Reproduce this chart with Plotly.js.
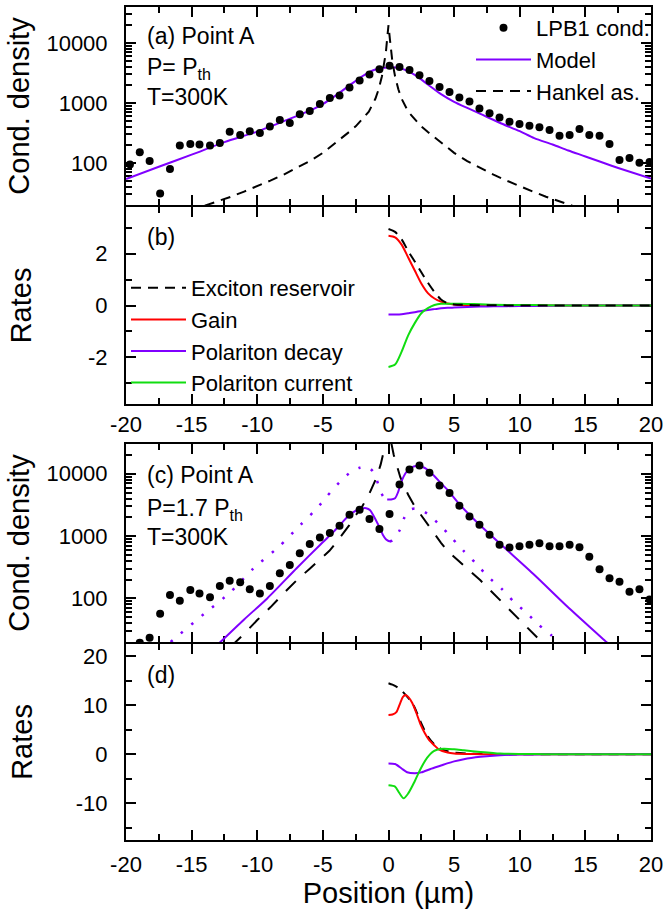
<!DOCTYPE html>
<html><head><meta charset="utf-8">
<script src="https://cdn.plot.ly/plotly-3.0.1.min.js"></script>
<style>html,body{margin:0;padding:0;background:#fff}#chart{width:668px;height:917px}</style>
</head><body><div id="chart"></div>
<script>
// ---------- DATA ----------
const posPts = [-19.7,-18.95,-18.2,-17.4,-16.65,-15.9,-15.1,-14.4,-13.6,-12.85,-12.1,-11.3,-10.57,-9.8,-9.04,-8.28,-7.52,-6.76,-6.0,-5.23,-4.47,-3.73,-2.97,-2.2,-1.45,-0.69,0.08,0.84,1.6,2.36,3.12,3.89,4.65,5.4,6.17,6.93,7.7,8.46,9.22,9.98,10.74,11.5,12.27,13.03,13.8,14.55,15.3,16.08,16.84,17.6,18.36,19.12,19.89];
const condA = [95,152,108,31,80,196,208,205,196,216,332,294,338,316,408,525,464,653,740,965,1220,1340,1820,2380,3000,3660,4200,4000,3550,2900,2330,1850,1530,1240,1060,815,678,575,488,447,418,394,355,286,294,369,294,286,208,113,122,101,104];
const condC = [null,19.5,23.5,57,113,91.5,136,120,104,158,192,181,140,120,158,253,344,532,745,948,1120,1470,2200,2650,1880,1300,2270,6700,11700,13600,10400,6450,4900,3080,2070,1515,1050,725,655,690,725,771,690,690,725,661,468,294,210,185,128,140,96];

const modelAx = [-20,-17.5,-15,-12.5,-10,-7.5,-6,-5,-4,-3,-2,-1,-0.3,0.3,1,2,3,4,5,6,7,8.6,10,11.1,12.5,13.7,15,16.2,17.5,20];
const modelAy = [54,87,138,224,335,550,750,965,1350,1950,2800,3630,3900,3940,3760,2950,2040,1410,1050,830,660,457,340,260,204,162,129,104,83,55];

const hankelAx = [-14,-13,-12,-11,-10,-9,-8,-7,-6,-5,-4.5,-4,-3.5,-3,-2.5,-2,-1.5,-1,-0.75,-0.5,-0.3,-0.2,-0.1,0,0.1,0.2,0.3,0.5,0.75,1,1.5,2,2.5,3,3.5,4,4.5,5,6,7,8,9,10,11,12,13,14];
const hankelAy = [19.5,23,27.5,33.5,41,51,64,82,108,148,180,220,270,330,410,540,720,1180,1700,2800,4800,7000,12000,20000,12000,7000,4800,2800,1700,1180,720,540,410,330,270,220,180,148,108,82,64,51,41,33.5,27.5,23,19.5];

const modelCLx = [-13,-11,-9.24,-7,-5.18,-4.17,-3.66,-3,-2.5,-2,-1.7,-1.4,-1.12,-0.8,-0.6,-0.4,-0.2,0,0.2];
const modelCLy = [18.3,46,100,305,735,1180,1540,2150,2550,2780,2800,2600,2080,1550,1270,1020,890,835,815];
const modelCRx = [-0.1,0.2,0.5,0.75,0.91,1.15,1.42,1.8,2.19,2.6,2.95,3.45,3.96,4.5,5.49,6.76,8.59,11.12,13.66,16.6,17];
const modelCRy = [3850,3870,4050,5200,6740,9000,11000,12800,13300,12800,11700,9400,7160,5500,3100,1650,725,238,73,20,16.5];
const mirrorCLx = [-16.6,-16.1,-14.07,-12.06,-10.28,-8.37,-6.7,-5.43,-4.67,-3.73,-2.8,-2.2,-1.88,-1.5,-1.2,-0.99,-0.66,-0.4,-0.15,0.1];
const mirrorCLy = [20,24.6,56,125,304,670,1515,2820,4400,7300,11000,12500,12900,12500,11000,9150,5600,4300,3900,3850];
const mirrorCRx = [0.1,0.3,0.55,0.86,1.17,1.5,1.75,2.0,2.4,2.95,3.96,4.85,5.74,6.65,7.57,8.59,9.47,10.5,11.4,12.4,13.2];
const mirrorCRy = [830,850,980,1250,1900,2450,2700,2760,2650,2290,1470,920,575,366,225,145,92,59,38.5,25.7,18];

const hankelCx = [-12,-11,-10,-9,-8,-7,-6,-5,-4.5,-4,-3.5,-3,-2.5,-2,-1.5,-1.2,-0.9,-0.6,-0.4,-0.2,0,0.2,0.4,0.6,0.9,1.2,1.5,2,2.5,3,3.5,4,4.5,5,6,7,8,9,10,11,12];
const hankelCy = [17,27,45,72,120,195,300,460,580,780,1080,1480,2150,3000,4600,6300,8800,14000,20000,32000,80000,32000,20000,14000,8800,6300,4600,3000,2150,1480,1080,780,580,460,300,195,120,72,45,27,17];

// panel (b) rates
const ratesBx = [0,0.5,1,1.5,2,2.5,3,3.5,4,4.5,5,6,7,8,10,12,15,20];
const excitonB = [2.95,2.84,2.55,2.1,1.7,1.28,0.88,0.52,0.23,0.09,0.04,0.02,0.01,0.01,0,0,0,0];
const gainB    = [2.69,2.63,2.35,1.85,1.35,0.85,0.48,0.27,0.15,0.08,0.04,0.01,0,0,0,0,0,0];
const decayB   = [-0.35,-0.35,-0.34,-0.3,-0.26,-0.21,-0.17,-0.14,-0.11,-0.09,-0.08,-0.06,-0.04,-0.03,-0.02,-0.01,0,0];
const currentB = [-2.37,-2.28,-1.78,-1.15,-0.68,-0.3,-0.1,0.02,0.07,0.07,0.07,0.06,0.05,0.03,0.02,0.01,0,0];

// panel (d) rates
const excitonDx = [0,0.3,0.66,1.0,1.5,1.8,2.0,2.5,3.0,3.5,4.0,4.5,5.0,6,7,8,10,15,20];
const excitonDy = [14.5,14.2,13.7,13.0,11.5,10.5,9.5,6.3,3.6,2.0,1.1,0.6,0.35,0.15,0.05,0,0,0,0];
const gainDx = [0,0.3,0.6,0.9,1.1,1.3,1.5,1.8,2.1,2.44,2.75,3.07,3.5,3.83,4.5,5,6,7,8,10,15,20];
const gainDy = [8.0,8.1,8.6,10.5,11.7,12.1,11.7,10.5,8.6,6.1,4.4,3.0,1.8,1.0,0.35,0.15,0.05,0.02,0,0,0,0];
const decayDx = [0,0.5,1.0,1.42,2.0,2.5,3.2,4.0,4.47,5.0,5.74,7.0,8.5,10,12,15,20];
const decayDy = [-1.87,-2.0,-2.9,-3.67,-3.87,-3.7,-3.0,-2.3,-1.87,-1.45,-1.0,-0.53,-0.2,-0.07,-0.02,0,0];
const currentDx = [0,0.5,0.8,1.15,1.5,2.0,2.44,2.95,3.45,4.2,5.0,5.74,7.0,8.5,10,12,15,20];
const currentDy = [-6.33,-6.6,-7.8,-9.0,-8.0,-5.5,-3.0,-0.67,0.66,1.13,1.0,0.8,0.46,0.13,0.05,0.02,0,0];

const xTickVals = [-20,-15,-10,-5,0,5,10,15,20];
const xTickText = ['-20','-15','-10','-5','0','5','10','15','20'];
const logTickVals = [100,1000,10000];
const logTickText = ['100','1000','10000'];
const logMinorVals = [30,40,50,60,70,80,90,200,300,400,500,600,700,800,900,2000,3000,4000,5000,6000,7000,8000,9000,20000,30000];
const ratesBTickVals = [-2,0,2];
const ratesBTickText = ['-2','0','2'];
const ratesDTickVals = [-10,0,10,20];
const ratesDTickText = ['-10','0','10','20'];

// ---------- STYLE / LAYOUT ----------
const FONT = 'Liberation Sans, Arial, sans-serif';
const PURPLE = '#8000ff', RED = '#ff0000', GREEN = '#11dd11';
const W = 668, H = 917, ML = 126, MR = 17, MT = 7, MB = 77;
const plotH = H - MT - MB, plotW = W - ML - MR;
const py = p => (H - MB - p) / plotH;
const px = p => (p - ML) / plotW;
const DASH = '10px,7px';

const traces = [
  {x: modelAx, y: modelAy, xaxis:'x', yaxis:'y', mode:'lines', name:'Model', legend:'legend', legendrank:2,
   line:{color:PURPLE, width:2, shape:'spline', smoothing:0.8}},
  {x: hankelAx, y: hankelAy, xaxis:'x', yaxis:'y', mode:'lines', name:'Hankel as.', legend:'legend', legendrank:3,
   line:{color:'black', width:2, dash:DASH}},
  {x: posPts, y: condA, xaxis:'x', yaxis:'y', mode:'markers', name:'LPB1 cond.', legend:'legend', legendrank:1,
   marker:{color:'black', size:8}},
  {x: ratesBx, y: gainB, xaxis:'x2', yaxis:'y2', mode:'lines', name:'Gain', legend:'legend2', legendrank:2,
   line:{color:RED, width:2, shape:'spline', smoothing:0.7}},
  {x: ratesBx, y: decayB, xaxis:'x2', yaxis:'y2', mode:'lines', name:'Polariton decay', legend:'legend2', legendrank:3,
   line:{color:PURPLE, width:2, shape:'spline', smoothing:0.7}},
  {x: ratesBx, y: currentB, xaxis:'x2', yaxis:'y2', mode:'lines', name:'Polariton current', legend:'legend2', legendrank:4,
   line:{color:GREEN, width:2, shape:'spline', smoothing:0.7}},
  {x: ratesBx, y: excitonB, xaxis:'x2', yaxis:'y2', mode:'lines', name:'Exciton reservoir', legend:'legend2', legendrank:1,
   line:{color:'black', width:2, dash:DASH, shape:'spline', smoothing:0.7}},
  {x: mirrorCLx, y: mirrorCLy, xaxis:'x3', yaxis:'y3', mode:'lines', showlegend:false,
   line:{color:PURPLE, width:2.5, dash:'2.5px,11px', shape:'spline', smoothing:0.7}},
  {x: mirrorCRx, y: mirrorCRy, xaxis:'x3', yaxis:'y3', mode:'lines', showlegend:false,
   line:{color:PURPLE, width:2.5, dash:'2.5px,11px', shape:'spline', smoothing:0.7}},
  {x: hankelCx, y: hankelCy, xaxis:'x3', yaxis:'y3', mode:'lines', showlegend:false,
   line:{color:'black', width:2, dash:'14px,12px'}},
  {x: modelCLx, y: modelCLy, xaxis:'x3', yaxis:'y3', mode:'lines', showlegend:false,
   line:{color:PURPLE, width:2, shape:'spline', smoothing:0.7}},
  {x: modelCRx, y: modelCRy, xaxis:'x3', yaxis:'y3', mode:'lines', showlegend:false,
   line:{color:PURPLE, width:2, shape:'spline', smoothing:0.7}},
  {x: posPts, y: condC, xaxis:'x3', yaxis:'y3', mode:'markers', showlegend:false,
   marker:{color:'black', size:8}},
  {x: excitonDx, y: excitonDy, xaxis:'x4', yaxis:'y4', mode:'lines', showlegend:false,
   line:{color:'black', width:2, dash:DASH, shape:'spline', smoothing:0.7}},
  {x: gainDx, y: gainDy, xaxis:'x4', yaxis:'y4', mode:'lines', showlegend:false,
   line:{color:RED, width:2, shape:'spline', smoothing:0.7}},
  {x: decayDx, y: decayDy, xaxis:'x4', yaxis:'y4', mode:'lines', showlegend:false,
   line:{color:PURPLE, width:2, shape:'spline', smoothing:0.7}},
  {x: currentDx, y: currentDy, xaxis:'x4', yaxis:'y4', mode:'lines', showlegend:false,
   line:{color:GREEN, width:2, shape:'spline', smoothing:0.7}}
];

const tickFont = {family: FONT, size: 22, color: 'black'};
const titleFont = {family: FONT, size: 29, color: 'black'};
function xAxis(anchor, labels, extra) {
  return Object.assign({
    anchor: anchor, range: [-20, 20], showline: true, linecolor: 'black', linewidth: 2,
    mirror: 'ticks', ticks: 'inside', ticklen: 10, tickwidth: 2, tickcolor: 'black', layer: 'below traces',
    tickmode: 'array', tickvals: xTickVals, ticktext: xTickText, showticklabels: labels,
    minor: {ticks: 'inside', ticklen: 6, tickwidth: 2, tickcolor: 'black', tickmode: 'linear', tick0: 0, dtick: 2.5, showgrid: false},
    showgrid: false, zeroline: false, tickfont: tickFont
  }, extra || {});
}
function yAxis(anchor, domain, extra) {
  return Object.assign({
    anchor: anchor, domain: domain, showline: true, linecolor: 'black', linewidth: 2,
    mirror: 'ticks', ticks: 'inside', ticklen: 10, tickwidth: 2, tickcolor: 'black', layer: 'below traces',
    tickmode: 'array', showgrid: false, zeroline: false, tickfont: tickFont,
    ticklabelstandoff: 12
  }, extra || {});
}

const layout = {
  width: W, height: H, margin: {l: ML, r: MR, t: MT, b: MB, pad: 0, autoexpand: false},
  paper_bgcolor: 'white', plot_bgcolor: 'white',
  font: {family: FONT, size: 22, color: 'black'},
  xaxis: xAxis('y', false),
  xaxis2: xAxis('y2', true, {ticklabelstandoff: 0}),
  xaxis3: xAxis('y3', false),
  xaxis4: xAxis('y4', true, {ticklabelstandoff: 4, title: {text: 'Position (µm)', font: titleFont, standoff: 6}}),
  yaxis: yAxis('x', [py(205), 1], {type: 'log', range: [Math.log10(20), Math.log10(40000)],
    tickvals: logTickVals, ticktext: logTickText,
    minor: {ticks: 'inside', ticklen: 6, tickwidth: 2, tickcolor: 'black', tickmode: 'array', tickvals: logMinorVals},
    title: {text: 'Cond. density', font: titleFont, standoff: 8}}),
  yaxis2: yAxis('x2', [py(404), py(207)], {range: [-3.8, 3.8],
    tickvals: ratesBTickVals, ticktext: ratesBTickText,
    minor: {ticks: 'inside', ticklen: 6, tickwidth: 2, tickcolor: 'black', tickmode: 'linear', tick0: -3, dtick: 1},
    title: {text: 'Rates', font: titleFont, standoff: 48}}),
  yaxis3: yAxis('x3', [py(642), py(444)], {type: 'log', range: [Math.log10(20), Math.log10(30000)],
    tickvals: logTickVals, ticktext: logTickText,
    minor: {ticks: 'inside', ticklen: 6, tickwidth: 2, tickcolor: 'black', tickmode: 'array', tickvals: logMinorVals},
    title: {text: 'Cond. density', font: titleFont, standoff: 8}}),
  yaxis4: yAxis('x4', [0, py(644)], {range: [-17.5, 22.5],
    tickvals: ratesDTickVals, ticktext: ratesDTickText,
    minor: {ticks: 'inside', ticklen: 6, tickwidth: 2, tickcolor: 'black', tickmode: 'linear', tick0: -15, dtick: 5},
    title: {text: 'Rates', font: titleFont, standoff: 35}}),
  legend: {x: px(655), xanchor: 'right', y: 1, yanchor: 'top', bgcolor: 'rgba(0,0,0,0)', borderwidth: 0,
    font: {family: FONT, size: 22, color: 'black'}, itemwidth: 55, tracegroupgap: 0, traceorder: 'normal'},
  legend2: {x: 0, xanchor: 'left', y: py(267), yanchor: 'top', bgcolor: 'rgba(0,0,0,0)', borderwidth: 0,
    font: {family: FONT, size: 22, color: 'black'}, itemwidth: 55, tracegroupgap: 0, traceorder: 'normal'},
  annotations: [
    {text: '(a) Point A', x: px(145), y: py(36)},
    {text: 'P= P<sub>th</sub>', x: px(145), y: py(68)},
    {text: 'T=300K', x: px(145), y: py(97)},
    {text: '(b)', x: px(145), y: py(237)},
    {text: '(c) Point A', x: px(145), y: py(475)},
    {text: 'P=1.7 P<sub>th</sub>', x: px(145), y: py(509)},
    {text: 'T=300K', x: px(145), y: py(537)},
    {text: '(d)', x: px(145), y: py(675)}
  ].map(a => Object.assign({xref: 'paper', yref: 'paper', xanchor: 'left', yanchor: 'middle', showarrow: false,
    font: {family: FONT, size: 23, color: 'black'}}, a))
};

Plotly.newPlot('chart', traces, layout, {displayModeBar: false});
</script></body></html>
